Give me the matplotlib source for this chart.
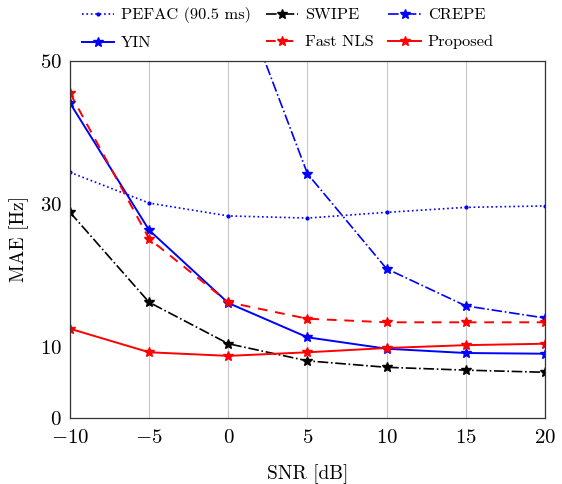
import numpy as np
import matplotlib
matplotlib.use("Agg")
import matplotlib.pyplot as plt

plt.rcParams['font.family'] = 'serif'
plt.rcParams['font.serif'] = ['cmr10', 'DejaVu Serif']
plt.rcParams['mathtext.fontset'] = 'cm'
plt.rcParams['axes.formatter.use_mathtext'] = True
plt.rcParams['axes.unicode_minus'] = False

snr = [-10, -5, 0, 5, 10, 15, 20]

pefac = [34.4, 30.1, 28.3, 28.0, 28.8, 29.5, 29.7]
swipe = [28.8, 16.2, 10.4, 8.0, 7.1, 6.7, 6.4]
crepe = [95.0, 78.0, 63.5, 34.2, 20.9, 15.7, 14.0]
yin = [44.1, 26.3, 16.1, 11.3, 9.7, 9.1, 9.0]
fast_nls = [45.5, 25.1, 16.2, 13.9, 13.4, 13.4, 13.4]
proposed = [12.5, 9.2, 8.7, 9.2, 9.8, 10.2, 10.4]

yticks = [0, 10, 30, 50]

fig = plt.figure(figsize=(5.62, 4.84), dpi=100)
ax = fig.add_axes([0.1246, 0.1364, 0.845, 0.7376])

ms = 7
h1, = ax.plot(snr, pefac, color='blue', linestyle=':', marker='.', markersize=4,
              lw=1.2, label='PEFAC (90.5 ms)')
h2, = ax.plot(snr, swipe, color='black', linestyle='-.', marker='*', markersize=ms,
              lw=1.2, label='SWIPE')
h3, = ax.plot(snr, crepe, color='blue', linestyle='-.', marker='*', markersize=ms,
              lw=1.2, label='CREPE')
h4, = ax.plot(snr, yin, color='blue', linestyle='-', marker='*', markersize=ms,
              lw=1.4, label='YIN')
h5, = ax.plot(snr, fast_nls, color='red', linestyle=(0, (5, 4)), marker='*', markersize=ms,
              lw=1.4, label='Fast NLS')
h6, = ax.plot(snr, proposed, color='red', linestyle='-', marker='*', markersize=ms,
              lw=1.4, label='Proposed')

ax.set_xlim(-10, 20)
ax.set_ylim(0, 50)
ax.set_xticks(snr)
ax.set_yticks(yticks)
ax.grid(True, axis='x', color='#c8c8c8', lw=0.8)
ax.set_axisbelow(True)
ax.tick_params(axis='x', length=0, labelsize=15, pad=8)
ax.tick_params(axis='y', length=0, labelsize=15, pad=6)
for s in ax.spines.values():
    s.set_linewidth(0.9)
    s.set_color('#333333')

ax.set_xlabel('SNR [dB]', fontsize=14, labelpad=12)
ax.set_ylabel('MAE [Hz]', fontsize=14, labelpad=8)

# row order as in the reference: PEFAC, SWIPE, CREPE / YIN, Fast NLS, Proposed
fig.legend(handles=[h1, h4, h2, h5, h3, h6], ncol=3, frameon=False,
           loc='upper center', bbox_to_anchor=(0.512, 1.015), fontsize=11.8,
           handlelength=2.0, columnspacing=0.9, labelspacing=0.75, handletextpad=0.4)

fig.savefig('out.png', dpi=100)
